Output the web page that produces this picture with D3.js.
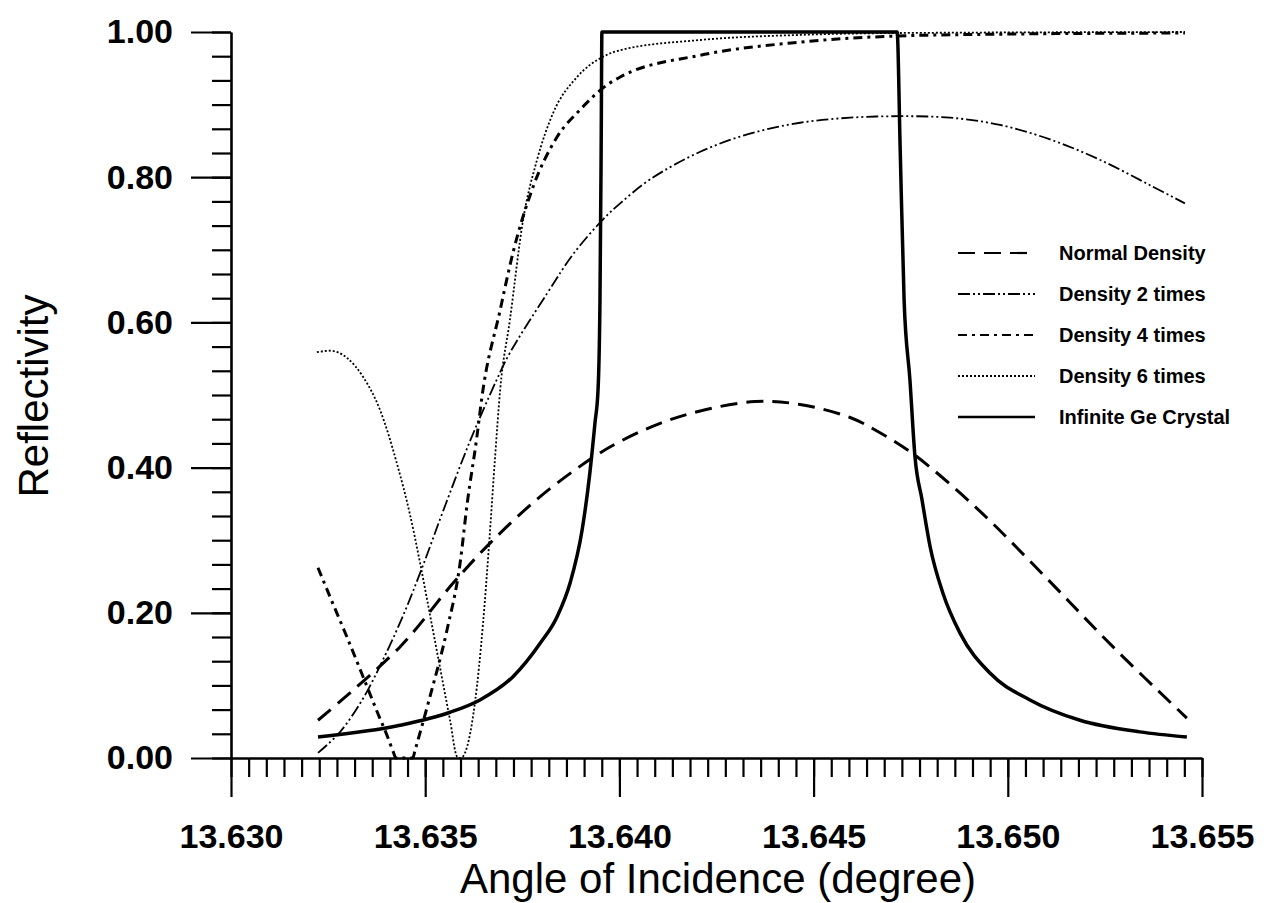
<!DOCTYPE html>
<html>
<head>
<meta charset="utf-8">
<script src="https://cdn.jsdelivr.net/npm/d3@7"></script>
<style>
  body { margin: 0; background: #fff; }
  svg { font-family: Arial, "Liberation Sans", sans-serif; }
</style>
</head>
<body>
<svg id="chart" width="1267" height="903"></svg>
<script>
// tick values
const xMajor = [13.630, 13.635, 13.640, 13.645, 13.650, 13.655]
const yMajor = [0.0, 0.2, 0.4, 0.6, 0.8, 1.0]

// series: [angle, reflectivity]
const normalDensity = [
  [13.63224, 0.052], [13.63435, 0.153], [13.63572, 0.241], [13.63667, 0.296],
  [13.63796, 0.360], [13.63932, 0.414], [13.64002, 0.436], [13.64100, 0.460],
  [13.64208, 0.478], [13.64349, 0.491], [13.64465, 0.487], [13.64594, 0.469],
  [13.64671, 0.448], [13.64761, 0.417], [13.64928, 0.340], [13.65101, 0.247],
  [13.65271, 0.153], [13.65461, 0.055]
]
const density2 = [
  [13.63224, 0.007], [13.63281, 0.036], [13.63340, 0.082], [13.63391, 0.135],
  [13.63443, 0.196], [13.63492, 0.262], [13.63546, 0.340], [13.63615, 0.436],
  [13.63685, 0.522], [13.63718, 0.558], [13.63814, 0.640], [13.63881, 0.694],
  [13.63958, 0.742], [13.64002, 0.764], [13.64079, 0.797], [13.64208, 0.835],
  [13.64336, 0.860], [13.64465, 0.875], [13.64594, 0.882], [13.64722, 0.884],
  [13.64851, 0.882], [13.64980, 0.872], [13.65109, 0.852], [13.65237, 0.824],
  [13.65366, 0.789], [13.65456, 0.764]
]
const density4 = [
  [13.63224, 0.262], [13.63255, 0.222], [13.63299, 0.166], [13.63340, 0.112],
  [13.63376, 0.064], [13.63404, 0.028], [13.63418, 0.008], [13.63425, 0.0],
  [13.63468, 0.0], [13.63474, 0.011], [13.63512, 0.084], [13.63556, 0.176],
  [13.63590, 0.269], [13.63608, 0.350], [13.63633, 0.442], [13.63646, 0.497],
  [13.63693, 0.617], [13.63726, 0.696], [13.63778, 0.787], [13.63839, 0.855],
  [13.63899, 0.893], [13.63968, 0.927], [13.64002, 0.938], [13.64208, 0.968],
  [13.64465, 0.986], [13.64715, 0.9945], [13.64980, 0.997], [13.65456, 0.9986]
]
const density6 = [
  [13.63221, 0.559], [13.63255, 0.561], [13.63299, 0.551], [13.63340, 0.525],
  [13.63384, 0.479], [13.63427, 0.406], [13.63461, 0.335], [13.63487, 0.268],
  [13.63512, 0.198], [13.63538, 0.125], [13.63564, 0.052], [13.63582, 0.002],
  [13.63590, 0.0], [13.63597, 0.002], [13.63628, 0.076], [13.63649, 0.186],
  [13.63664, 0.291], [13.63680, 0.415], [13.63693, 0.507], [13.63718, 0.603],
  [13.63752, 0.741], [13.63788, 0.824], [13.63829, 0.888], [13.63891, 0.938],
  [13.63958, 0.966], [13.64002, 0.975], [13.64208, 0.989], [13.64465, 0.996],
  [13.64715, 0.9986], [13.65456, 1.0]
]
const infiniteGe = [
  [13.63224, 0.029], [13.63435, 0.045], [13.63564, 0.063], [13.63641, 0.080],
  [13.63726, 0.112], [13.63796, 0.158], [13.63839, 0.194], [13.63873, 0.241],
  [13.63904, 0.314], [13.63924, 0.393], [13.63937, 0.461], [13.63945, 0.507],
  [13.63950, 0.631], [13.63953, 0.837], [13.63955, 1.0], [13.64715, 1.0],
  [13.64723, 0.837], [13.64733, 0.631], [13.64748, 0.521], [13.64761, 0.415],
  [13.64779, 0.356], [13.64800, 0.291], [13.64833, 0.227], [13.64877, 0.172],
  [13.64954, 0.117], [13.65057, 0.080], [13.65186, 0.052], [13.65340, 0.036],
  [13.65461, 0.029]
]

const seriesNames = ['Normal Density', 'Density 2 times', 'Density 4 times', 'Density 6 times', 'Infinite Ge Crystal']

const svg = d3.select('#chart')

const x = d3.scaleLinear().domain([13.630, 13.655]).range([231, 1202])
const y = d3.scaleLinear().domain([0, 1]).range([758, 32])

// minor ticks: 6 per 0.2 on y, 11 per 0.005 on x
const yMinor = d3.range(0, 31).map(i => i / 30)
const xMinor = d3.range(0, 56).map(i => 13.630 + i * 0.005 / 11)

// y axis
svg.append('g').attr('transform', 'translate(231,0)')
  .call(d3.axisLeft(y).tickValues(yMinor).tickSize(19).tickSizeOuter(0).tickFormat(''))
  .call(g => g.selectAll('line').attr('stroke-width', 2.2))
svg.append('g').attr('transform', 'translate(231,0)')
  .call(d3.axisLeft(y).tickValues(yMajor).tickSize(40).tickSizeOuter(0).tickPadding(18).tickFormat(d3.format('.2f')))
  .call(g => g.select('.domain').attr('stroke-width', 2.6))
  .call(g => g.selectAll('line').attr('stroke-width', 2.2))
  .call(g => g.selectAll('text').attr('font-size', 34).attr('font-weight', 'bold').attr('fill', '#000'))

// x axis
svg.append('g').attr('transform', 'translate(0,758)')
  .call(d3.axisBottom(x).tickValues(xMinor).tickSize(19).tickSizeOuter(0).tickFormat(''))
  .call(g => g.selectAll('line').attr('stroke-width', 2.2))
svg.append('g').attr('transform', 'translate(0,758)')
  .call(d3.axisBottom(x).tickValues(xMajor).tickSize(39).tickSizeOuter(0).tickPadding(27).tickFormat(d3.format('.3f')))
  .call(g => g.select('.domain').attr('stroke-width', 2.6))
  .call(g => g.selectAll('line').attr('stroke-width', 2.2))
  .call(g => g.selectAll('text').attr('font-size', 34).attr('font-weight', 'bold').attr('fill', '#000'))

// axis titles
svg.append('text').attr('x', 718).attr('y', 893).attr('text-anchor', 'middle')
  .attr('font-size', 42).text('Angle of Incidence (degree)')
svg.append('text').attr('transform', 'translate(48,396) rotate(-90)').attr('text-anchor', 'middle')
  .attr('font-size', 42).text('Reflectivity')

// line styles for each series (smooth curves for the broad ones, monotone for the sharp ones)
const styles = [
  {data: normalDensity, width: 3, dash: '17,9', curve: d3.curveCatmullRom.alpha(0.5)},
  {data: density2, width: 1.8, dash: '12,3,2,3,2,3', curve: d3.curveCatmullRom.alpha(0.5)},
  {data: density4, width: 3, dash: '9,5,3,5', curve: d3.curveMonotoneX},
  {data: density6, width: 1.8, dash: '2,2', curve: d3.curveMonotoneX},
  {data: infiniteGe, width: 3.5, dash: null, curve: d3.curveMonotoneX}
]

svg.append('g').selectAll('path').data(styles).enter().append('path')
  .attr('d', s => d3.line().x(d => x(d[0])).y(d => y(d[1])).curve(s.curve)(s.data))
  .attr('fill', 'none').attr('stroke', '#000')
  .attr('stroke-width', s => s.width)
  .attr('stroke-dasharray', s => s.dash)

// legend
const legend = svg.append('g').selectAll('g').data(styles).enter().append('g')
  .attr('transform', (s, i) => `translate(958,${253 + i * 41})`)
legend.append('line').attr('x1', 0).attr('x2', 77)
  .attr('stroke', '#000').attr('stroke-width', s => Math.max(1.8, s.width - 0.8))
  .attr('stroke-dasharray', s => s.dash)
legend.append('text').attr('x', 101).attr('y', 7)
  .attr('font-size', 20).attr('font-weight', 'bold')
  .text((s, i) => seriesNames[i])
</script>
</body>
</html>
